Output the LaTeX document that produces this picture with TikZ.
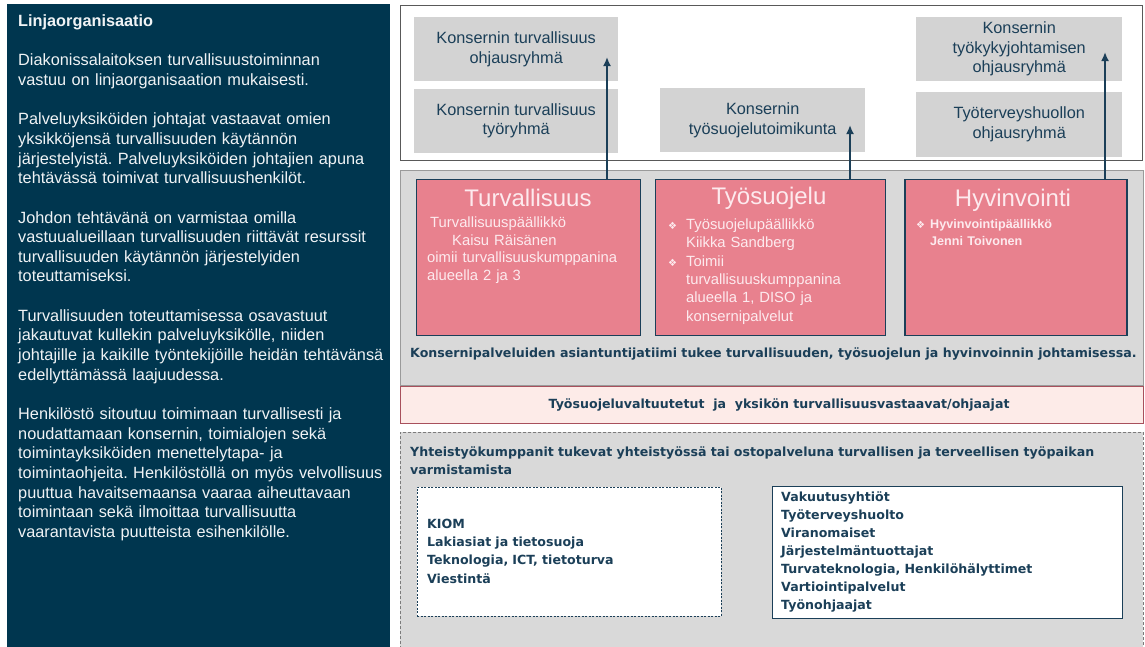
\documentclass[tikz,border=0pt]{standalone}
\usepackage{fontspec}
\setmainfont{Liberation Sans}
\newfontfamily\vahvafont{DejaVu Sans}
\newfontfamily\symb{DejaVu Sans}
\usetikzlibrary{arrows.meta,positioning}
\frenchspacing

\definecolor{linjasini}{HTML}{00364F}
\definecolor{tummasini}{HTML}{1B3F58}
\definecolor{ryhmaharmaa}{HTML}{D3D3D3}
\definecolor{taustaharmaa}{HTML}{D9D9D9}
\definecolor{reunaharmaa}{HTML}{9A9A9A}
\definecolor{aluepunainen}{HTML}{E8818E}
\definecolor{aluevalko}{HTML}{FDEAEE}
\definecolor{nauhapun}{HTML}{FDEBE8}
\definecolor{nauhareuna}{HTML}{A8505C}

\newcommand{\bul}{{\symb\fontsize{10}{10}\selectfont ❖}}

\tikzset{
    %Define standard arrow tip
    >={Latex[length=9pt,width=8pt]},
    %Define style for committee boxes
    ryhma/.style={
           rectangle,
           fill=ryhmaharmaa,
           text=tummasini,
           align=center,
           inner sep=0pt,
           font=\fontsize{16.3}{19.5}\selectfont},
    %Define style for the three areas
    alue/.style={
           rectangle,
           draw=tummasini, line width=1.2pt,
           fill=aluepunainen,
           inner sep=0pt,
           minimum height=156},
    alueotsikko/.style={
           text=aluevalko,
           font=\fontsize{24}{24}\selectfont},
    aluetxt/.style={
           text=aluevalko,
           align=left,
           inner sep=0pt,
           font=\fontsize{14.8}{18.3}\selectfont},
    %Bold dark texts
    vahva/.style={
           text=tummasini,
           align=left,
           inner sep=0pt,
           font=\vahvafont\bfseries\fontsize{12.6}{18.2}\selectfont},
    % Define arrow style
    nuoli/.style={
           ->,
           line width=2pt,
           draw=tummasini}
}

\begin{document}
\begin{tikzpicture}[x=1pt,y=-1pt]
 \useasboundingbox (0,0) rectangle (1145,646);

 %Linjaorganisaatio
 \node[rectangle,fill=linjasini,minimum width=383,minimum height=644,anchor=north west,inner sep=0pt] (linja) at (7,4) {};
 \node[text=white!94!linjasini,text width=380,align=left,inner sep=0pt,anchor=base west,
       font=\fontsize{16.3}{19.65}\selectfont] (linjatxt) at (18,26.5) {%
 \textbf{Linjaorganisaatio}\\[19.65pt]
 Diakonissalaitoksen turvallisuustoiminnan\\
 vastuu on linjaorganisaation mukaisesti.\\[19.65pt]
 Palveluyksiköiden johtajat vastaavat omien\\
 yksikköjensä turvallisuuden käytännön\\
 järjestelyistä. Palveluyksiköiden johtajien apuna\\
 tehtävässä toimivat turvallisuushenkilöt.\\[19.65pt]
 Johdon tehtävänä on varmistaa omilla\\
 vastuualueillaan turvallisuuden riittävät resurssit\\
 turvallisuuden käytännön järjestelyiden\\
 toteuttamiseksi.\\[19.65pt]
 Turvallisuuden toteuttamisessa osavastuut\\
 jakautuvat kullekin palveluyksikölle, niiden\\
 johtajille ja kaikille työntekijöille heidän tehtävänsä\\
 edellyttämässä laajuudessa.\\[19.65pt]
 Henkilöstö sitoutuu toimimaan turvallisesti ja\\
 noudattamaan konsernin, toimialojen sekä\\
 toimintayksiköiden menettelytapa- ja\\
 toimintaohjeita. Henkilöstöllä on myös velvollisuus\\
 puuttua havaitsemaansa vaaraa aiheuttavaan\\
 toimintaan sekä ilmoittaa turvallisuutta\\
 vaarantavista puutteista esihenkilölle.};

 %Konsernin ryhmat
 \node[rectangle,draw=black!65,line width=1pt,fill=white,minimum width=742,minimum height=155,anchor=north west] (ylaosa) at (400,5) {};
 \node[ryhma,minimum width=204,minimum height=64,anchor=north west] (turvohj) at (414,17) {Konsernin turvallisuus\\ohjausryhmä};
 \node[ryhma,minimum width=204,minimum height=64,below=7pt of turvohj] (turvtyo) {Konsernin turvallisuus\\työryhmä};
 \node[ryhma,minimum width=205,minimum height=64,anchor=north west] (tstmk) at (660,88) {Konsernin\\työsuojelutoimikunta};
 \node[ryhma,minimum width=206,minimum height=64,anchor=north west] (tkjohj) at (916,17) {Konsernin\\työkykyjohtamisen\\ohjausryhmä};
 \node[ryhma,minimum width=206,minimum height=65,below=10pt of tkjohj] (tthohj) {Työterveyshuollon\\ohjausryhmä};

 %Asiantuntijatiimi
 \node[rectangle,draw=reunaharmaa,line width=1pt,fill=taustaharmaa,minimum width=743,minimum height=215,anchor=north west] (tiimi) at (400,170) {};
 \node[alue,minimum width=224,anchor=north west] (turv) at (416,179) {};
 \node[alue,minimum width=230,right=14pt of turv] (tsuoj) {};
 \node[alue,minimum width=222,right=18pt of tsuoj] (hyvi) {};

 \node[alueotsikko] (turvots) at (528,198) {Turvallisuus};
 \node[alueotsikko] (tsuojots) at (769,198) {Työsuojelu};
 \node[alueotsikko] (hyviots) at (1013,200) {Hyvinvointi};

 \node[aluetxt,text width=215,anchor=base west] (turvtxt) at (427,227.5) {%
 \hspace*{3pt}Turvallisuuspäällikkö\\
 \hspace*{25pt}Kaisu Räisänen\\[-1.5pt]
 oimii turvallisuuskumppanina\\
 alueella 2 ja 3};
 \node[aluetxt,text width=218,anchor=base west] (tsuojtxt) at (668,229.5) {%
 \makebox[18pt][l]{\bul}Työsuojelupäällikkö\\
 \hspace*{18pt}Kiikka Sandberg\\
 \makebox[18pt][l]{\bul}Toimii\\
 \hspace*{18pt}turvallisuuskumppanina\\
 \hspace*{18pt}alueella 1, DISO ja\\
 \hspace*{18pt}konsernipalvelut};
 \node[aluetxt,text width=200,anchor=base west,font=\bfseries\fontsize{12.6}{17}\selectfont] (hyvitxt) at (916,228.5) {%
 \makebox[14pt][l]{\bul}Hyvinvointipäällikkö\\
 \hspace*{14pt}Jenni Toivonen};

 \node[vahva,anchor=base west] (tiimitxt) at (410,357.5) {Konsernipalveluiden asiantuntijatiimi tukee turvallisuuden, työsuojelun ja hyvinvoinnin johtamisessa.};

 %Valtuutetut
 \node[rectangle,draw=nauhareuna,line width=1.2pt,fill=nauhapun,minimum width=743,minimum height=37,anchor=north west] (nauha) at (400,386) {};
 \node[vahva] (nauhatxt) at ([xshift=7pt]nauha.center) {Työsuojeluvaltuutetut\ \ ja\ \ yksikön turvallisuusvastaavat/ohjaajat};

 %Yhteistyokumppanit
 \node[rectangle,draw=reunaharmaa!80!black,dash pattern=on 3pt off 2pt,line width=0.8pt,fill=taustaharmaa,minimum width=743,minimum height=220,anchor=north west] (yht) at (400,432) {};
 \node[vahva,text width=730,anchor=base west] (yhttxt) at (410,456) {Yhteistyökumppanit tukevat yhteistyössä tai ostopalveluna turvallisen ja terveellisen työpaikan\\varmistamista};
 \node[rectangle,draw=tummasini,dash pattern=on 2pt off 1.5pt,line width=0.8pt,fill=white,minimum width=304,minimum height=129,anchor=north west] (sisaiset) at (417,487) {};
 \node[vahva,text width=290,anchor=base west] (sisaisettxt) at (427,528.5) {KIOM\\Lakiasiat ja tietosuoja\\Teknologia, ICT, tietoturva\\Viestintä};
 \node[rectangle,draw=tummasini,line width=0.8pt,fill=white,minimum width=350,minimum height=132,anchor=north west] (ulkoiset) at (772,486) {};
 \node[vahva,text width=335,anchor=base west,font=\vahvafont\bfseries\fontsize{12.6}{18.1}\selectfont] (ulkoisettxt) at (781,501) {Vakuutusyhtiöt\\Työterveyshuolto\\Viranomaiset\\Järjestelmäntuottajat\\Turvateknologia, Henkilöhälyttimet\\Vartiointipalvelut\\Työnohjaajat};

 %Nuolet
 \coordinate (turvkarki) at (607,57);
 \coordinate (tsuojkarki) at (850,125);
 \coordinate (hyvikarki) at (1105,52);
 \draw[nuoli] (turv.north -| turvkarki) -- (turvkarki);
 \draw[nuoli] (tsuoj.north -| tsuojkarki) -- (tsuojkarki);
 \draw[nuoli] (hyvi.north -| hyvikarki) -- (hyvikarki);
\end{tikzpicture}
\end{document}
